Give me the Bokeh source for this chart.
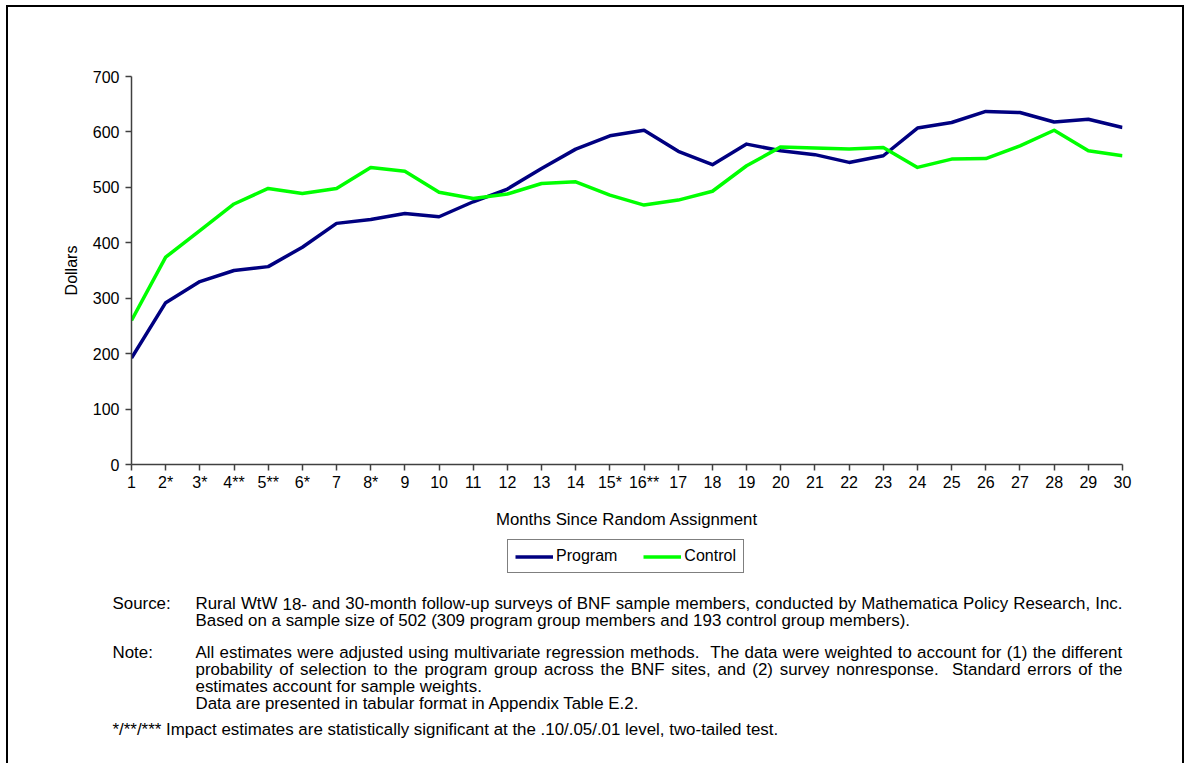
from bokeh.plotting import figure
from bokeh.models import Range1d, FixedTicker, Legend, LegendItem, Label
from bokeh.layouts import column
from bokeh.embed import file_html
from bokeh.resources import INLINE

# ---------------- data ----------------
months = list(range(1, 31))
month_labels = ["1", "2*", "3*", "4**", "5**", "6*", "7", "8*", "9", "10",
                "11", "12", "13", "14", "15*", "16**", "17", "18", "19", "20",
                "21", "22", "23", "24", "25", "26", "27", "28", "29", "30"]
program = [192, 292, 330, 350, 357, 392, 435, 442, 453, 447,
           474, 497, 534, 569, 593, 603, 565, 541, 578, 566,
           559, 545, 557, 607, 617, 637, 635, 618, 623, 608]
control = [260, 374, 422, 470, 498, 489, 498, 536, 529, 491,
           480, 488, 507, 510, 486, 468, 477, 493, 539, 573,
           571, 569, 572, 536, 551, 552, 575, 603, 566, 557]
y_ticks = [0, 100, 200, 300, 400, 500, 600, 700]
series_names = ["Program", "Control"]
series_colors = ["#000080", "#00FF00"]

FONT = "Liberation Sans"
NOTE_FS = 16.9
TICK_FS = "16px"

W = 1187
MAIN_H = 535
NOTES_H = 763 - MAIN_H

# ---------------- main chart ----------------
p = figure(width=W, height=MAIN_H, x_range=Range1d(1, 30), y_range=Range1d(0, 700),
           output_backend="svg", toolbar_location=None,
           min_border_left=131, min_border_right=W - 1122, min_border_top=76,
           min_border_bottom=MAIN_H - 76 - 388,
           background_fill_alpha=0, border_fill_alpha=0, outline_line_color=None)
p.grid.visible = False
p.frame_align = False

r1 = p.line(months, program, line_color=series_colors[0], line_width=3.5, line_join="round")
r2 = p.line(months, control, line_color=series_colors[1], line_width=3.5, line_join="round")

for ax in (p.xaxis[0], p.yaxis[0]):
    ax.axis_line_color = "#404040"
    ax.axis_line_width = 1.5
    ax.major_tick_line_color = "#404040"
    ax.major_tick_line_width = 1.5
    ax.major_tick_out = 6
    ax.major_tick_in = 0
    ax.minor_tick_line_color = None
    ax.major_label_text_font = FONT
    ax.major_label_text_font_size = TICK_FS
    ax.major_label_text_color = "black"
    ax.axis_label_text_font = FONT
    ax.axis_label_text_font_style = "normal"
    ax.axis_label_text_color = "black"

p.xaxis.ticker = FixedTicker(ticks=months)
p.xaxis.major_label_overrides = {m: lab for m, lab in zip(months, month_labels)}
p.xaxis.major_label_standoff = 3
p.xaxis.axis_label = "Months Since Random Assignment"
p.xaxis.axis_label_text_font_size = "16.8px"
p.xaxis.axis_label_standoff = 16

p.yaxis.ticker = FixedTicker(ticks=y_ticks)
p.yaxis.major_label_standoff = 6
p.yaxis.axis_label = "Dollars"
p.yaxis.axis_label_text_font_size = "16px"
p.yaxis.axis_label_standoff = 10

# ---------------- notes panel (legend + notes) ----------------
notes = figure(width=W, height=NOTES_H, x_range=Range1d(0, W), y_range=Range1d(NOTES_H, 0),
               x_axis_type=None, y_axis_type=None, output_backend="svg",
               toolbar_location=None, min_border=0, outline_line_color=None,
               background_fill_alpha=0, border_fill_alpha=0)
notes.grid.visible = False
notes.frame_align = False

# legend keys (same styles as the chart's series; their single point lies off-canvas)
k1 = notes.line([-100], [-100], line_color=series_colors[0], line_width=3.5)
k2 = notes.line([-100], [-100], line_color=series_colors[1], line_width=3.5)
legend = Legend(items=[LegendItem(label=series_names[0], renderers=[k1]),
                       LegendItem(label=series_names[1], renderers=[k2])],
                orientation="horizontal", location=(507, NOTES_H - 38), padding=7, spacing=26,
                label_standoff=3, glyph_width=38, glyph_height=17, label_height=17,
                margin=0, border_line_color="black", border_line_width=1,
                background_fill_color="white", background_fill_alpha=1,
                label_text_font=FONT, label_text_font_size="16px", label_text_color="black")
notes.add_layout(legend)

AW = {' ': 278, '!': 278, '"': 355, '#': 556, '$': 556, '%': 889, '&': 667, "'": 191,
      '(': 333, ')': 333, '*': 389, '+': 584, ',': 278, '-': 333, '.': 278, '/': 278,
      ':': 278, ';': 278, '?': 556, 'A': 667, 'B': 667, 'C': 722, 'D': 722, 'E': 667,
      'F': 611, 'G': 778, 'H': 722, 'I': 278, 'J': 500, 'K': 667, 'L': 556, 'M': 833,
      'N': 722, 'O': 778, 'P': 667, 'Q': 778, 'R': 722, 'S': 667, 'T': 611, 'U': 722,
      'V': 667, 'W': 944, 'X': 667, 'Y': 667, 'Z': 611, 'a': 556, 'b': 556, 'c': 500,
      'd': 556, 'e': 556, 'f': 278, 'g': 556, 'h': 556, 'i': 222, 'j': 222, 'k': 500,
      'l': 222, 'm': 833, 'n': 556, 'o': 556, 'p': 556, 'q': 556, 'r': 333, 's': 500,
      't': 278, 'u': 556, 'v': 500, 'w': 722, 'x': 500, 'y': 500, 'z': 500}


def text_width(s, fs):
    return sum(AW.get(c, 556) for c in s) * fs / 1000.0


def add_label(x, y, text, fs=NOTE_FS):
    notes.add_layout(Label(x=x, y=y, text=text, text_font=FONT, text_font_size=f"{fs}px",
                           text_color="black", text_baseline="middle", text_align="left"))


def add_justified(x, y, text, width, fs=NOTE_FS):
    n = text.count(" ")
    extra = (width - text_width(text, fs)) / n
    sw = AW[" "] * fs / 1000.0 + extra
    cx = x
    for w in text.split(" "):
        if w:
            add_label(cx, y, w, fs)
            cx += text_width(w, fs)
        cx += sw


OFF = MAIN_H
X0 = 112
X1 = 195
WID = 927
add_label(X0, 603 - OFF, "Source:")
add_justified(X1, 603 - OFF, "Rural WtW 18- and 30-month follow-up surveys of BNF sample members, "
                             "conducted by Mathematica Policy Research, Inc.", WID)
add_label(X1, 620 - OFF, "Based on a sample size of 502 (309 program group members and 193 control group members).")
add_label(X0, 652 - OFF, "Note:")
add_justified(X1, 652 - OFF, "All estimates were adjusted using multivariate regression methods.  "
                             "The data were weighted to account for (1) the different", WID)
add_justified(X1, 669 - OFF, "probability of selection to the program group across the BNF sites, "
                             "and (2) survey nonresponse.  Standard errors of the", WID)
add_label(X1, 686 - OFF, "estimates account for sample weights.")
add_label(X1, 703 - OFF, "Data are presented in tabular format in Appendix Table E.2.")
add_label(X0, 729 - OFF, "*/**/*** Impact estimates are statistically significant at the .10/.05/.01 level, two-tailed test.")

# outer frame of the exhibit (left, top and right rules)
layout = column(p, notes, styles={
    "background-color": "white",
    "box-shadow": ("inset 6px 5px 0 0 white, inset -3px 0 0 0 white, "
                   "inset 8px 7px 0 0 black, inset -5px 0 0 0 black"),
})
open("out.html", "w").write(file_html(layout, INLINE))
